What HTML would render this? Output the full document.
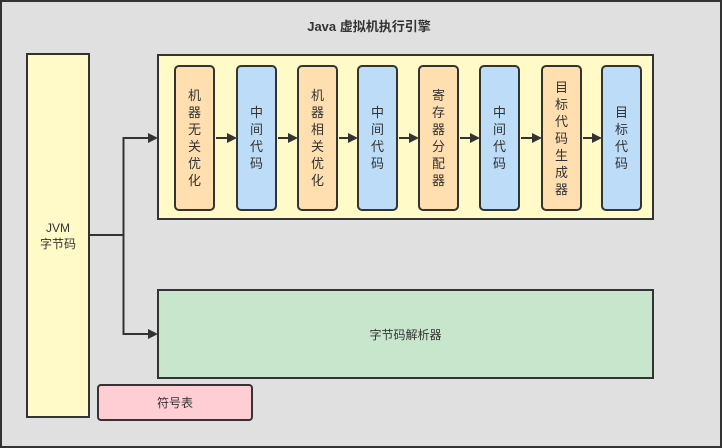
<!DOCTYPE html><html><head><meta charset="utf-8"><style>
body{margin:0;width:722px;height:448px;overflow:hidden;font-family:"Liberation Sans","Noto Sans CJK SC",sans-serif;}
.root{position:absolute;left:0;top:0;width:718px;height:444px;border:2px solid #333;background:#e0e0e0;}
.b{position:absolute;box-sizing:border-box;border:2px solid #333;display:flex;align-items:center;justify-content:center;text-align:center;font-size:12px;color:#333;}
.v{border-radius:5px;width:41px;top:65px;height:146px;line-height:17px;padding:0 12px;font-size:13px;}
.o{background:#ffdfb0}.c{background:#bcdcf8}
</style></head><body><div class="root"></div>
<div style="position:absolute;left:0;top:16px;width:722px;text-align:center;font-weight:bold;font-size:13px;color:#333;padding-left:8px">Java 虚拟机执行引擎</div>
<div class="b" style="left:26px;top:53px;width:64px;height:365px;background:#fffac8;line-height:16px">JVM<br>字节码</div>
<div class="b" style="left:157px;top:54px;width:497px;height:166px;background:#fffac8"></div>
<div class="b v o" style="left:174px">机器无关优化</div>
<div class="b v c" style="left:236px">中间代码</div>
<div class="b v o" style="left:297px">机器相关优化</div>
<div class="b v c" style="left:357px">中间代码</div>
<div class="b v o" style="left:418px">寄存器分配器</div>
<div class="b v c" style="left:479px">中间代码</div>
<div class="b v o" style="left:541px">目标代码生成器</div>
<div class="b v c" style="left:601px">目标代码</div>
<div class="b" style="left:157px;top:289px;width:497px;height:90px;background:#c8e6cc">字节码解析器</div>
<div class="b" style="left:97px;top:384px;width:156px;height:37px;background:#ffcdd4;border-radius:4px">符号表</div>
<svg style="position:absolute;left:0;top:0" width="722" height="448">
<g stroke="#333" stroke-width="2" fill="none"><path d="M90 235H123.5V138H150M123.5 235V334H150"/>
<path d="M216 138H229M278 138H290M339 138H350M399 138H411M460 138H472M521 138H534M583 138H594"/></g>
<g fill="#333"><path d="M158 138l-10-5v10zM158 334l-10-5v10zM237 138l-10-5v10zM298 138l-10-5v10zM358 138l-10-5v10zM419 138l-10-5v10zM480 138l-10-5v10zM542 138l-10-5v10zM602 138l-10-5v10z"/></g>
</svg>
</body></html>
